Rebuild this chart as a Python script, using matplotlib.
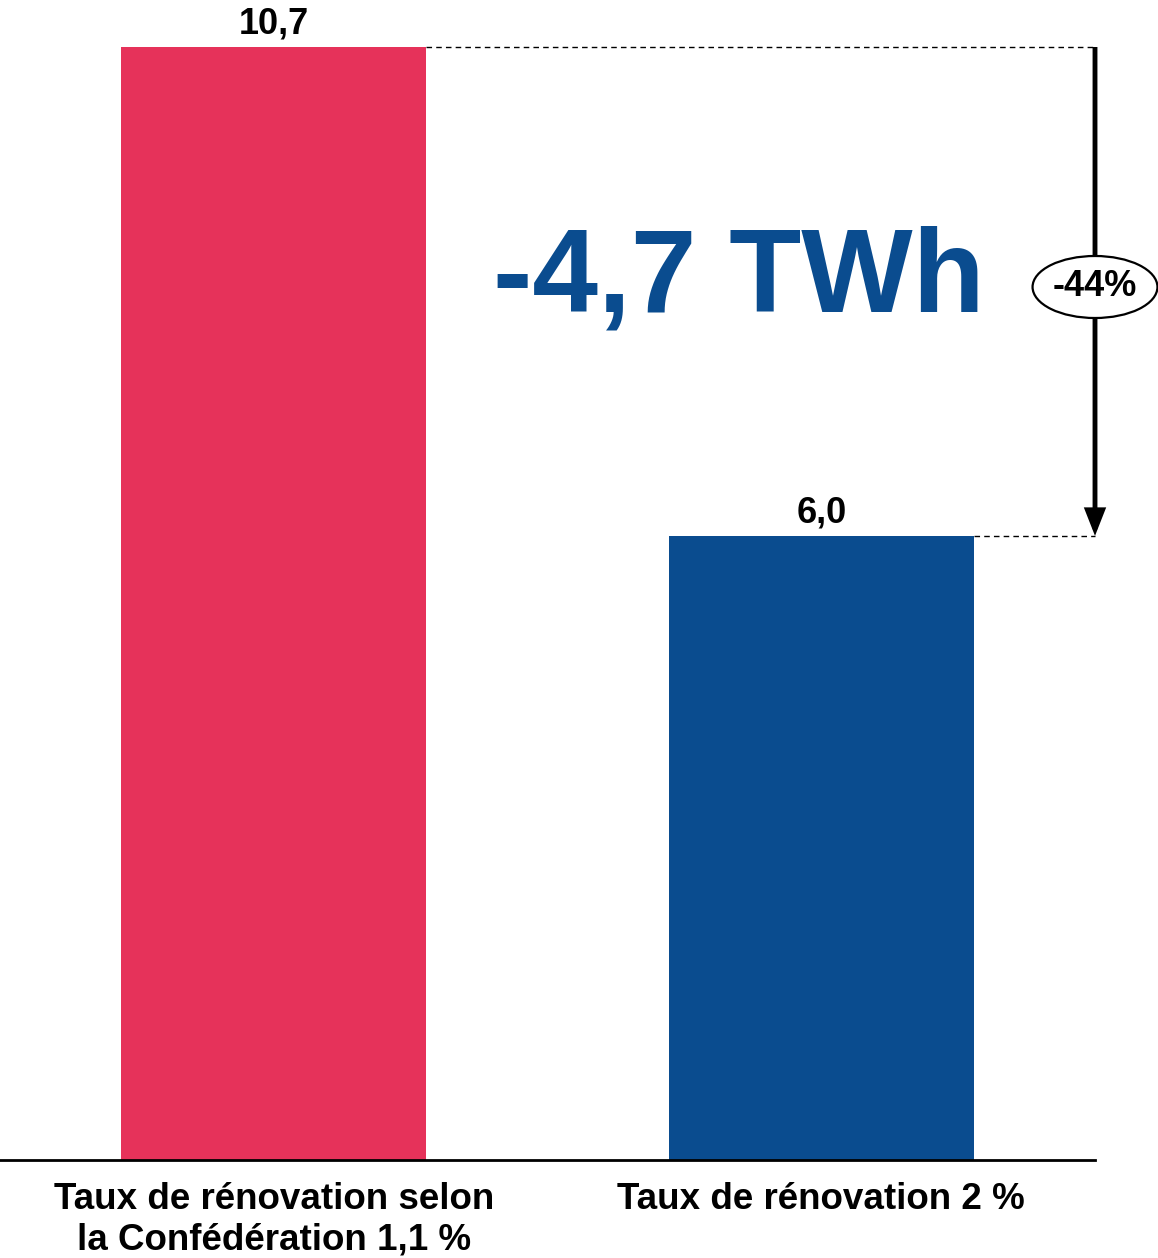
import matplotlib
matplotlib.use("Agg")
import matplotlib.pyplot as plt
from matplotlib.patches import Ellipse

plt.rcParams["font.family"] = ["Liberation Sans", "DejaVu Sans"]
plt.rcParams["font.weight"] = "bold"

categories = ["Taux de rénovation selon\nla Confédération 1,1 %", "Taux de rénovation 2 %"]
values = [10.7, 6.0]
value_labels = ["10,7", "6,0"]
colors = ["#E6325A", "#0A4C8F"]
delta_label = "-4,7 TWh"
pct_label = "-44%"

fig = plt.figure(figsize=(11.58, 12.58), dpi=100)
ax = fig.add_axes([0.0, 0.0779, 0.9456, 0.9221])

x = [0, 1]
bar_w = 0.557
ax.bar(x, values, width=bar_w, color=colors, zorder=2)

for xi, v, lab in zip(x, values, value_labels):
    ax.annotate(lab, xy=(xi, v), xytext=(0, 4), textcoords="offset points",
                ha="center", va="bottom", fontsize=26, fontweight="bold")

ax.set_xlim(-0.5, 1.5)
ax.set_ylim(0, values[0] * 1160 / 1113)

# dashed guides from each bar top to the arrow
for xi, v in zip(x, values):
    ax.plot([xi + bar_w / 2, 1.5], [v, v], color="black", lw=1.0,
            ls=(0, (4, 3)), clip_on=False, zorder=3)

# shaft, then a separate triangular head so it stays sharp
ax.annotate("", xy=(1.5, values[1]), xytext=(1.5, values[0]),
            arrowprops=dict(arrowstyle="-|>,head_length=1.4,head_width=0.55",
                            color="black", lw=3.5, shrinkA=0, shrinkB=0,
                            joinstyle="miter", capstyle="butt"),
            annotation_clip=False, zorder=4)

# ellipse with the percentage
ymid = ax.transData.inverted().transform((0, 1258 - 287))[1]
ell_w = 125 / 548.0
ell_h = 62 / 104.0
ax.add_patch(Ellipse((1.5, ymid), ell_w, ell_h, facecolor="white",
                     edgecolor="black", lw=1.6, clip_on=False, zorder=5))
ax.text(1.5, ymid, pct_label, ha="center", va="center", fontsize=26,
        fontweight="bold", zorder=6)

ax.text(0.85, 8.45, delta_label, ha="center", va="center", fontsize=85,
        fontweight="bold", color=colors[1])

ax.set_xticks(x)
ax.set_xticklabels(categories, fontsize=26.5, fontweight="bold",
                   linespacing=1.2)
ax.tick_params(axis="x", length=0, pad=16)
ax.set_yticks([])
for s in ("top", "right", "left"):
    ax.spines[s].set_visible(False)
ax.spines["bottom"].set_linewidth(2)

fig.savefig("out.png", dpi=100, facecolor="white")
